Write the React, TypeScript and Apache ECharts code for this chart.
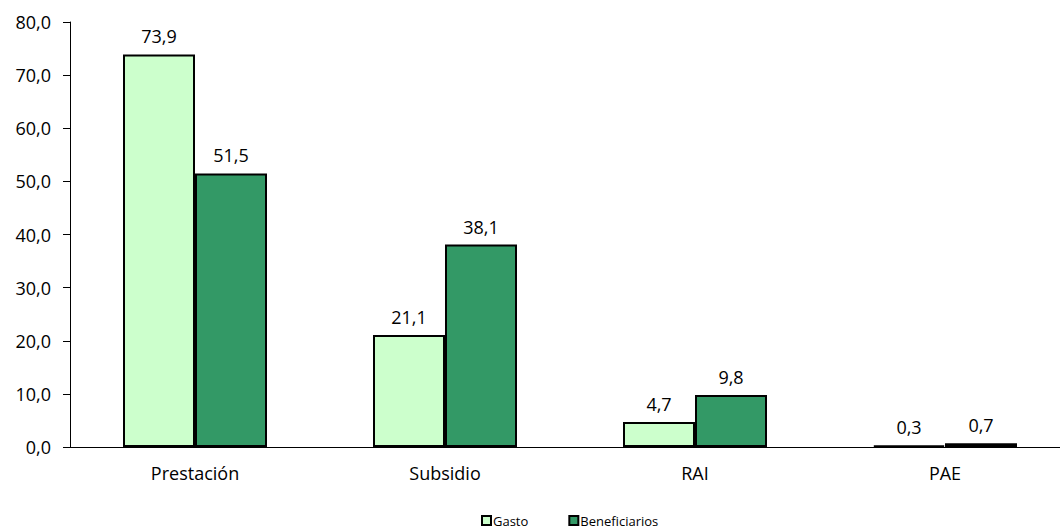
import React, { useEffect, useRef } from "react";
import * as echarts from "echarts";

const categories = ["Prestación", "Subsidio", "RAI", "PAE"];
const gasto = [73.9, 21.1, 4.7, 0.3];
const beneficiarios = [51.5, 38.1, 9.8, 0.7];
const seriesNames = ["Gasto", "Beneficiarios"];

const fmt = (v: number) => v.toFixed(1).replace(".", ",");
const FONT = "'Open Sans', Lato, sans-serif";

export default function App() {
  const ref = useRef<HTMLDivElement>(null);
  useEffect(() => {
    document.body.style.margin = "0";
    document.body.style.overflow = "hidden";
    document.documentElement.style.overflow = "hidden";
    const chart = echarts.init(ref.current!, null, { renderer: "svg" });
    chart.setOption({
      animation: false,
      textStyle: { fontFamily: FONT, color: "#000" },
      grid: { left: 70, right: 0, top: 22, bottom: 81, containLabel: false },
      legend: {
        data: seriesNames,
        left: 481,
        top: 514,
        padding: 0,
        itemWidth: 9,
        itemHeight: 9,
        itemGap: 40,
        icon: "rect",
        textStyle: { fontFamily: FONT, fontSize: 13, color: "#000", padding: [0, 0, 0, -3] },
      },
      xAxis: {
        type: "category",
        data: categories,
        axisLine: { lineStyle: { color: "#000", width: 1 } },
        axisTick: { show: false },
        axisLabel: { color: "#000", fontSize: 18, margin: 17, fontFamily: FONT },
      },
      yAxis: {
        type: "value",
        min: 0,
        max: 80,
        interval: 10,
        axisLine: { show: true, lineStyle: { color: "#000", width: 1 } },
        axisTick: { show: true, length: 7, lineStyle: { color: "#000" } },
        splitLine: { show: false },
        axisLabel: { color: "#000", fontSize: 18, margin: 19, fontFamily: FONT, formatter: (v: number) => fmt(v) },
      },
      series: [
        {
          name: seriesNames[0],
          type: "bar",
          data: gasto,
          barWidth: 72,
          barGap: "0%",
          itemStyle: { color: "#CCFFCC", borderColor: "#000", borderWidth: 2 },
          label: { show: true, position: "top", distance: 9, color: "#000", fontSize: 18, fontFamily: FONT, formatter: (p: any) => fmt(p.value) },
        },
        {
          name: seriesNames[1],
          type: "bar",
          data: beneficiarios,
          barWidth: 72,
          barGap: "0%",
          itemStyle: { color: "#339966", borderColor: "#000", borderWidth: 2 },
          label: { show: true, position: "top", distance: 9, color: "#000", fontSize: 18, fontFamily: FONT, formatter: (p: any) => fmt(p.value) },
        },
      ],
    });
    return () => chart.dispose();
  }, []);
  return <div ref={ref} style={{ width: 1070, height: 528 }} />;
}
